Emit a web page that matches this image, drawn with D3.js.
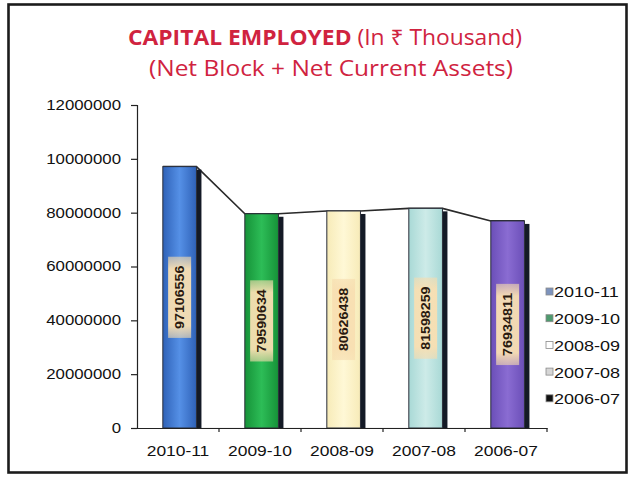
<!DOCTYPE html>
<html><head><meta charset="utf-8">
<script src="https://cdn.jsdelivr.net/npm/d3@7"></script>
<style>body{margin:0;background:#fff} svg{display:block}</style>
</head><body>
<svg id="chart" width="633" height="477"></svg>
<script>
// Capital employed, ₹ thousand (net block + net current assets)
const years = ["2010-11", "2009-10", "2008-09", "2007-08", "2006-07"];
const capitalEmployed = [97106556, 79590634, 80626438, 81598259, 76934811];
const yTickValues = [0, 20000000, 40000000, 60000000, 80000000, 100000000, 120000000];
const yTickLabels = ["0", "20000000", "40000000", "60000000", "80000000", "10000000", "12000000"];
const barFills = [
  ["#2f62b8", "#5590e6", "#2f62b8"],
  ["#169238", "#2dbd57", "#169238"],
  ["#f7ebb8", "#fff8d6", "#f7ebb8"],
  ["#a9d9d6", "#cdebe8", "#a9d9d6"],
  ["#6b4fb8", "#8a6cd2", "#6b4fb8"]
];
const legendFills = ["#7d93bd", "#4f9a6e", "#ffffff", "#d6d6d6", "#111111"];

const svg = d3.select("#chart");
const W = 633, H = 477;
const WIDEN = 1.2;

svg.append("rect").attr("width", W).attr("height", H).attr("fill", "#fff");
svg.append("rect")
  .attr("x", 8.5).attr("y", 4.5).attr("width", 618).attr("height", 468)
  .attr("fill", "#fff").attr("stroke", "#1c1c1c").attr("stroke-width", 2.6);

// gradients for the bar faces
const defs = svg.append("defs");
barFills.forEach((c, i) => {
  const g = defs.append("linearGradient").attr("id", "bar" + i)
    .attr("x1", "0").attr("x2", "1").attr("y1", "0").attr("y2", "0");
  g.append("stop").attr("offset", "0%").attr("stop-color", c[0]);
  g.append("stop").attr("offset", "50%").attr("stop-color", c[1]);
  g.append("stop").attr("offset", "100%").attr("stop-color", c[2]);
});
const lg = defs.append("linearGradient").attr("id", "labelBg")
  .attr("x1", "0").attr("x2", "1").attr("y1", "0").attr("y2", "0");
lg.append("stop").attr("offset", "0%").attr("stop-color", "#f6dcae").attr("stop-opacity", 0.6);
lg.append("stop").attr("offset", "15%").attr("stop-color", "#f8dfb2").attr("stop-opacity", 0.95);
lg.append("stop").attr("offset", "85%").attr("stop-color", "#f8dfb2").attr("stop-opacity", 0.95);
lg.append("stop").attr("offset", "100%").attr("stop-color", "#f6dcae").attr("stop-opacity", 0.6);

// title
const red = "#d0233f";
const title = svg.append("g").attr("font-family", "'Open Sans','Noto Sans','DejaVu Sans',sans-serif").attr("fill", red);
const t1 = title.append("text").attr("x", 325).attr("y", 45).attr("text-anchor", "middle").attr("font-size", 21);
t1.append("tspan").attr("font-weight", 700).text("CAPITAL EMPLOYED ");
t1.append("tspan").attr("font-weight", 400).text("(In ₹ Thousand)");
const t2 = title.append("text").attr("x", 331).attr("y", 76).attr("text-anchor", "middle")
  .attr("font-size", 21).attr("font-weight", 500).text("(Net Block + Net Current Assets)");
[[t1, 394], [t2, 364]].forEach(([t, target]) => {
  t.attr("textLength", target).attr("lengthAdjust", "spacingAndGlyphs");
});

// scales
const x = d3.scaleBand().domain(years).range([137, 547]).paddingInner(0).paddingOuter(0);
const y = d3.scaleLinear().domain([0, 120000000]).range([428, 105]);
const bw = x.bandwidth();
const barX0 = d => x(d) + bw * 0.315;
const barW = bw * 0.41;
const sideW = 5;

const data = years.map((yr, i) => ({ yr, v: capitalEmployed[i], i }));

// white depth panels between columns, topped by the connecting line
const plot = svg.append("g");
for (let i = 0; i < data.length - 1; i++) {
  const a = data[i], b = data[i + 1];
  const xa = barX0(a.yr) + barW, xb = barX0(b.yr);
  plot.append("path")
    .attr("d", `M${xa},${y(a.v)}L${xb},${y(b.v)}L${xb},${y(0)}L${xa},${y(0)}Z`)
    .attr("fill", "#fff").attr("stroke", "#d8d8d8").attr("stroke-width", 0.6);
}
const linePts = [];
data.forEach(d => {
  linePts.push([barX0(d.yr), y(d.v)]);
  linePts.push([barX0(d.yr) + barW, y(d.v)]);
});
plot.append("path").attr("d", d3.line()(linePts))
  .attr("fill", "none").attr("stroke", "#2a2a2a").attr("stroke-width", 1.6);

// columns
const bars = plot.selectAll("g.bar").data(data).join("g").attr("class", "bar");
bars.append("rect")
  .attr("x", d => barX0(d.yr) + barW).attr("y", d => y(d.v) + 3)
  .attr("width", sideW).attr("height", d => y(0) - y(d.v) - 3)
  .attr("fill", "#141a26");
bars.append("rect")
  .attr("x", d => barX0(d.yr)).attr("y", d => y(d.v))
  .attr("width", barW).attr("height", d => y(0) - y(d.v))
  .attr("fill", d => `url(#bar${d.i})`)
  .attr("stroke", "#2b2f3a").attr("stroke-width", 1);

// value labels, rotated, at mid-height of each column
const labLen = d => String(d.v).length * 7.9;
const lab = bars.append("g")
  .attr("transform", d => `translate(${barX0(d.yr) + barW / 2},${(y(d.v) + y(0)) / 2}) rotate(-90)`);
lab.append("rect")
  .attr("x", d => -(labLen(d) + 18) / 2).attr("y", -11.5)
  .attr("width", d => labLen(d) + 18).attr("height", 23)
  .attr("fill", "url(#labelBg)");
lab.append("text")
  .attr("text-anchor", "middle").attr("dy", "0.36em")
  .attr("font-family", "'Liberation Sans',Arial,sans-serif").attr("font-size", 12)
  .attr("font-weight", 700).attr("fill", "#2a1a10")
  .attr("textLength", labLen).attr("lengthAdjust", "spacingAndGlyphs")
  .text(d => String(d.v));

// axes
const axisFont = "'Liberation Sans',Arial,sans-serif";
const yAxis = svg.append("g").attr("transform", `translate(137,0)`)
  .call(d3.axisLeft(y).tickValues(yTickValues).tickSize(6).tickPadding(10)
    .tickFormat((d, i) => yTickLabels[i]));
yAxis.select(".domain").attr("stroke", "#222").attr("stroke-width", 1.2);
yAxis.selectAll(".tick line").attr("stroke", "#222").attr("stroke-width", 1.2);
yAxis.selectAll("text").attr("font-family", axisFont).attr("font-size", 14)
  .attr("fill", "#111").attr("class", "wide");

const xAxis = svg.append("g").attr("transform", `translate(0,${y(0)})`)
  .call(d3.axisBottom(x).tickSize(0).tickPadding(18));
xAxis.select(".domain").attr("stroke", "#222").attr("stroke-width", 1.2);
xAxis.selectAll("text").attr("font-family", axisFont).attr("font-size", 14.5)
  .attr("fill", "#111").attr("class", "wide");
// category separators below the axis
xAxis.selectAll("line.sep").data(years).join("line").attr("class", "sep")
  .attr("x1", d => x(d) + bw).attr("x2", d => x(d) + bw)
  .attr("y1", 0).attr("y2", 4).attr("stroke", "#222").attr("stroke-width", 1.2);

// legend
const legend = svg.append("g").attr("font-family", axisFont);
const li = legend.selectAll("g").data(years).join("g")
  .attr("transform", (d, i) => `translate(546,${292 + i * 26.7})`);
li.append("rect").attr("x", 0).attr("y", -4).attr("width", 7).attr("height", 7)
  .attr("fill", (d, i) => legendFills[i]).attr("stroke", "#8a8a8a").attr("stroke-width", 0.8);
li.append("text").attr("x", 8).attr("y", 0).attr("dy", "0.36em")
  .attr("font-size", 15).attr("fill", "#111").attr("class", "wide").text(d => d);

// stretch axis and legend text horizontally
svg.selectAll("text.wide").each(function () {
  const w = this.getComputedTextLength();
  d3.select(this).attr("textLength", w * WIDEN).attr("lengthAdjust", "spacingAndGlyphs");
});
</script>
</body></html>
